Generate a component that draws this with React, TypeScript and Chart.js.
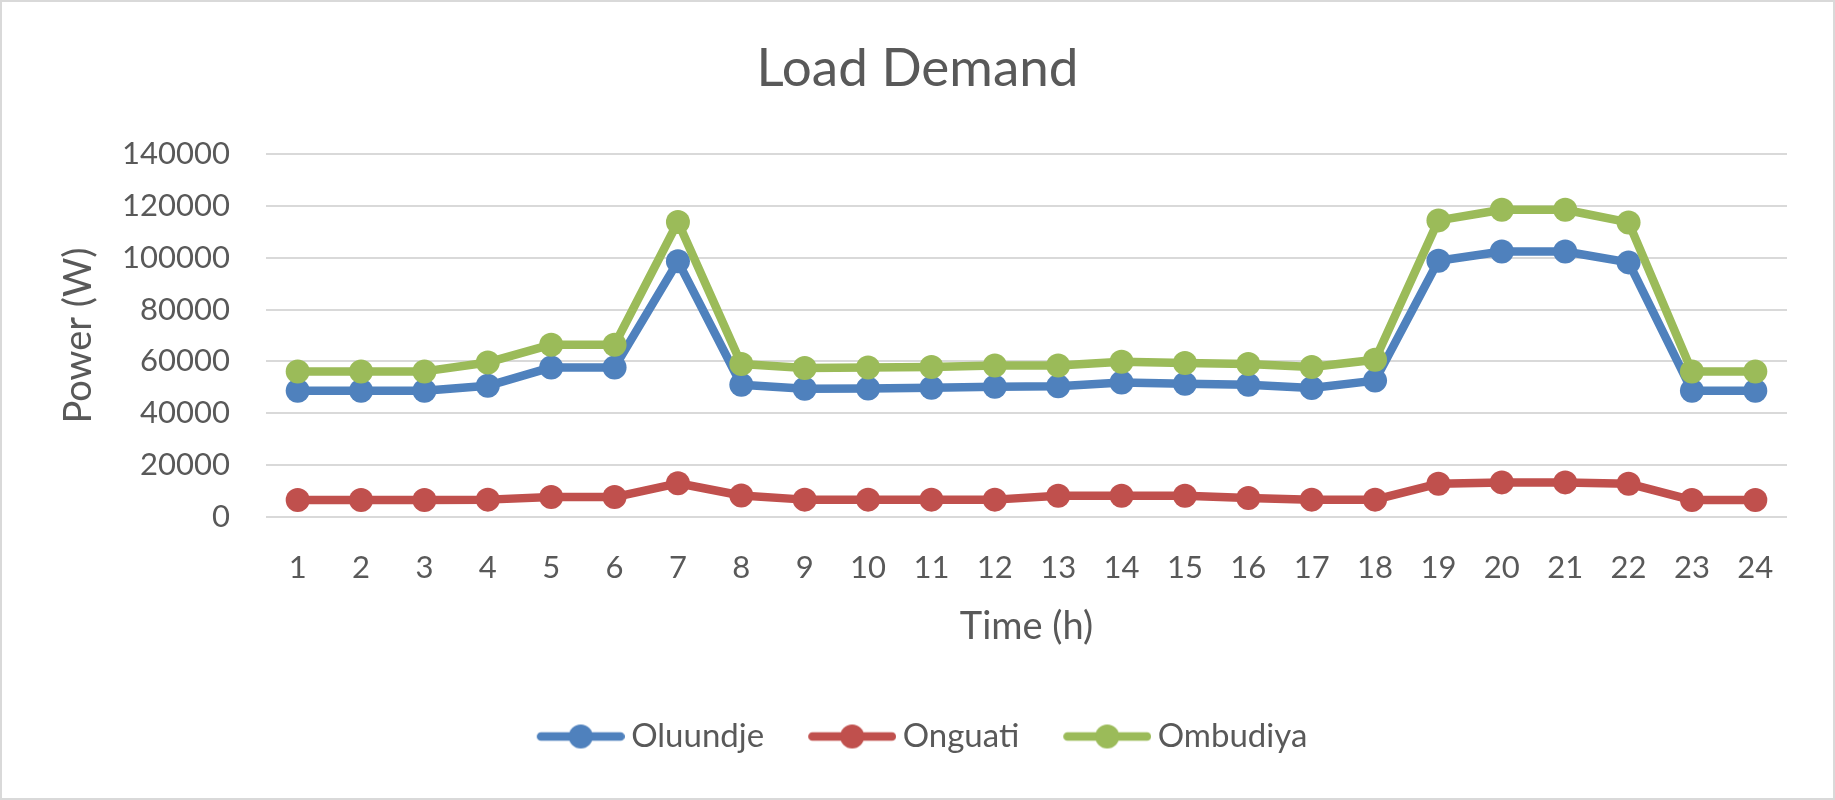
import React, { useEffect, useRef } from "react";
import { Chart, registerables } from "chart.js";

Chart.register(...registerables);

// ---- data ----
const HOURS = ["1", "2", "3", "4", "5", "6", "7", "8", "9", "10", "11", "12", "13", "14", "15", "16", "17", "18", "19", "20", "21", "22", "23", "24"];
const OLUUNDJE = [48700, 48700, 48700, 50600, 57700, 57700, 98600, 51000, 49500, 49600, 49850, 50250, 50400, 51900, 51400, 51000, 49750, 52600, 98850, 102400, 102400, 98200, 48700, 48700];
const ONGUATI = [6550, 6550, 6550, 6700, 7700, 7700, 13000, 8300, 6700, 6700, 6700, 6700, 8200, 8200, 8200, 7300, 6700, 6700, 12850, 13350, 13350, 12850, 6550, 6550];
const OMBUDIYA = [56150, 56150, 56150, 59600, 66450, 66450, 113800, 59000, 57450, 57700, 57850, 58450, 58450, 59900, 59400, 59000, 57850, 60650, 114400, 118500, 118500, 113600, 56150, 56150];
const SERIES_NAMES = ["Oluundje", "Onguati", "Ombudiya"];
const Y_MIN = 0;
const Y_MAX = 140000;
const Y_STEP = 20000;
const TITLE = "Load Demand";
const X_TITLE = "Time (h)";
const Y_TITLE = "Power (W)";

// ---- styles ----
const COLORS = ["#4F81BD", "#C0504D", "#9BBB59"];
const TEXT = "#595959";
const GRID = "#D9D9D9";
const FONT = "Lato";
const LINE_W = 8.5;
const MARKER_R = 12;

function makeLegendIcon(color: string): HTMLCanvasElement {
  const c = document.createElement("canvas");
  c.width = 107;
  c.height = 26;
  const ctx = c.getContext("2d")!;
  ctx.strokeStyle = color;
  ctx.lineWidth = LINE_W;
  ctx.lineCap = "round";
  ctx.beginPath();
  ctx.moveTo(19 + LINE_W / 2, 13);
  ctx.lineTo(107 - LINE_W / 2, 13);
  ctx.stroke();
  ctx.fillStyle = color;
  ctx.beginPath();
  ctx.arc(19 + 44, 13, MARKER_R, 0, Math.PI * 2);
  ctx.fill();
  return c;
}

export default function App() {
  const ref = useRef<HTMLCanvasElement>(null);

  useEffect(() => {
    const icons = COLORS.map(makeLegendIcon);
    const seriesData = [OLUUNDJE, ONGUATI, OMBUDIYA];
    const orders = [3, 2, 1];
    const datasets = seriesData.map((d, i) => ({
      label: SERIES_NAMES[i],
      data: d,
      borderColor: COLORS[i],
      backgroundColor: COLORS[i],
      pointBackgroundColor: COLORS[i],
      pointBorderColor: COLORS[i],
      pointBorderWidth: 0,
      pointRadius: MARKER_R,
      pointHoverRadius: MARKER_R,
      borderWidth: LINE_W,
      borderJoinStyle: "round" as const,
      borderCapStyle: "round" as const,
      tension: 0,
      fill: false,
      order: orders[i],
    }));

    const chart = new Chart(ref.current!, {
      type: "line",
      data: { labels: HOURS, datasets },
      options: {
        animation: false,
        responsive: false,
        layout: { padding: { left: 0, right: 0, top: 0, bottom: 37 } },
        plugins: {
          title: {
            display: true,
            text: TITLE,
            color: TEXT,
            font: { family: FONT, size: 53, weight: "normal" },
            padding: { top: 37, bottom: 53.4 },
          },
          legend: {
            position: "bottom",
            labels: {
              usePointStyle: true,
              pointStyleWidth: 87,
              padding: 35,
              color: TEXT,
              font: { family: FONT, size: 33 },
              generateLabels: (ch: any) =>
                ch.data.datasets.map((ds: any, i: number) => ({
                  text: ds.label,
                  pointStyle: icons[i],
                  fillStyle: "transparent",
                  strokeStyle: "transparent",
                  lineWidth: 0,
                  hidden: !ch.isDatasetVisible(i),
                  datasetIndex: i,
                  fontColor: TEXT,
                })),
            },
          },
          tooltip: { enabled: false },
        },
        scales: {
          x: {
            type: "category",
            offset: true,
            grid: { display: false, drawTicks: false },
            border: { display: false },
            ticks: {
              color: TEXT,
              font: { family: FONT, size: 31 },
              padding: 32,
              maxRotation: 0,
              autoSkip: false,
            },
            title: {
              display: true,
              text: X_TITLE,
              color: TEXT,
              font: { family: FONT, size: 38 },
              padding: { top: 0, bottom: 35 },
            },
            afterFit: (s: any) => {
              s.height = 168;
            },
          },
          y: {
            min: Y_MIN,
            max: Y_MAX,
            ticks: {
              stepSize: Y_STEP,
              color: TEXT,
              font: { family: FONT, size: 31 },
              padding: 36,
              callback: (v: any) => String(v),
            },
            grid: { color: GRID, lineWidth: 2, drawTicks: false },
            border: { display: false },
            title: {
              display: true,
              text: Y_TITLE,
              color: TEXT,
              font: { family: FONT, size: 38 },
              padding: { top: 56.2, bottom: 0 },
            },
            afterFit: (s: any) => {
              s.width = 266;
            },
          },
          yR: {
            type: "linear",
            position: "right",
            display: true,
            grid: { display: false, drawTicks: false },
            border: { display: false },
            ticks: { display: false },
            afterFit: (s: any) => {
              s.width = 48;
            },
          },
        },
      } as any,
    });
    return () => chart.destroy();
  }, []);

  return (
    <div style={{ position: "fixed", left: 0, top: 0, width: 1835, height: 800, background: "#fff" }}>
      <canvas ref={ref} width={1835} height={800} style={{ display: "block" }} />
      <div
        style={{
          position: "absolute",
          inset: 0,
          border: "2px solid #D9D9D9",
          pointerEvents: "none",
        }}
      />
    </div>
  );
}
